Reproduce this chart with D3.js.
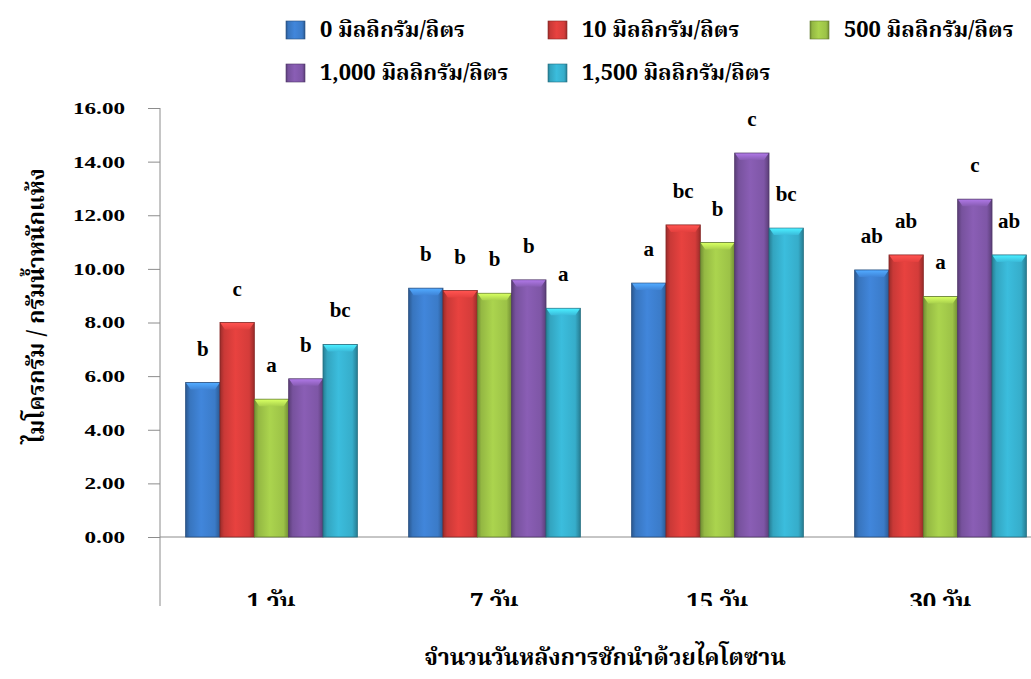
<!DOCTYPE html>
<html>
<head>
<meta charset="utf-8">
<script src="https://cdn.jsdelivr.net/npm/d3@7"></script>
<style>
  body { margin: 0; background: #fff; }
  svg { display: block; }
</style>
</head>
<body>
<div id="container"></div>
<script>
(function(){

    // ---------------------------------------------------------------- data
    const days = ["1 วัน", "7 วัน", "15 วัน", "30 วัน"];
    const series = ["0 มิลลิกรัม/ลิตร", "10 มิลลิกรัม/ลิตร", "500 มิลลิกรัม/ลิตร",
                    "1,000 มิลลิกรัม/ลิตร", "1,500 มิลลิกรัม/ลิตร"];
    // values per series, one per day
    const conc0    = [5.76, 9.28,  9.47,  9.96];
    const conc10   = [8.00, 9.19, 11.64, 10.52];
    const conc500  = [5.14, 9.09, 10.98,  8.97];
    const conc1000 = [5.90, 9.59, 14.32, 12.60];
    const conc1500 = [7.18, 8.53, 11.52, 10.52];
    // significance letters per series, one per day
    const letters0    = ["b", "b", "a",  "ab"];
    const letters10   = ["c", "b", "bc", "ab"];
    const letters500  = ["a", "b", "b",  "a"];
    const letters1000 = ["b", "b", "c",  "c"];
    const letters1500 = ["bc", "a", "bc", "ab"];
    const yTicks = [0, 2, 4, 6, 8, 10, 12, 14, 16];

    const yTitle = "ไมโครกรัม / กรัมน้ำหนักแห้ง";
    const xTitle = "จำนวนวันหลังการชักนำด้วยไคโตซาน";

    const colors = ["#3b7bc8", "#d43c3a", "#9cc247", "#7e56a6", "#36adca"];

    const values  = [conc0, conc10, conc500, conc1000, conc1500];
    const letters = [letters0, letters10, letters500, letters1000, letters1500];

    const data = [];
    days.forEach((d, i) =>
        series.forEach((s, j) =>
            data.push({day: d, series: s, idx: j, value: values[j][i], letter: letters[j][i]})
        )
    );

    // -------------------------------------------------------------- layout
    const width = 1031, height = 679;
    const thaiFont = "'Angsana New', 'Noto Serif Thai', 'Noto Sans Thai', 'Liberation Serif', serif";
    const numFont  = "'Liberation Serif', 'Times New Roman', serif";

    const x = d3.scaleBand()
        .domain(days)
        .range([160, 1052])
        .paddingInner(0.23)
        .paddingOuter(0.115);
    const xs = d3.scaleBand()
        .domain(series)
        .range([0, x.bandwidth()]);
    const y = d3.scaleLinear([0, 16], [537, 108]);
    const axisBottomY = 606;

    const svg = d3.select("#container").append("svg")
        .attr("width", width)
        .attr("height", height);

    const defs = svg.append("defs");
    colors.forEach((c, i) => {
        const base = d3.color(c);
        const g = defs.append("linearGradient")
            .attr("id", "grad" + i)
            .attr("x1", "0").attr("x2", "1").attr("y1", "0").attr("y2", "0");
        g.append("stop").attr("offset", "0%").attr("stop-color", base.darker(0.9));
        g.append("stop").attr("offset", "12%").attr("stop-color", base.darker(0.15));
        g.append("stop").attr("offset", "45%").attr("stop-color", base.brighter(0.25));
        g.append("stop").attr("offset", "85%").attr("stop-color", base);
        g.append("stop").attr("offset", "100%").attr("stop-color", base.darker(0.9));

        const t = defs.append("linearGradient")
            .attr("id", "top" + i)
            .attr("x1", "0").attr("x2", "0").attr("y1", "0").attr("y2", "1");
        t.append("stop").attr("offset", "0%").attr("stop-color", base.brighter(0.9));
        t.append("stop").attr("offset", "100%").attr("stop-color", base.brighter(0.2));
    });

    defs.append("clipPath").attr("id", "plotClip")
        .append("rect")
        .attr("x", 0).attr("y", 0)
        .attr("width", width).attr("height", axisBottomY);

    // ---------------------------------------------------------------- axes
    const yAxis = svg.append("g")
        .attr("transform", "translate(160,0)")
        .call(d3.axisLeft(y)
            .tickValues(yTicks)
            .tickFormat(d3.format(".2f"))
            .tickSize(12)
            .tickPadding(23));
    yAxis.select(".domain").remove();
    yAxis.selectAll(".tick line").attr("stroke", "#8c8c8c");
    // the original numbers are wide, so stretch them a bit
    yAxis.selectAll(".tick text")
        .style("font", `bold 17px ${numFont}`)
        .attr("fill", "#000")
        .attr("transform", function() {
            const tx = +d3.select(this).attr("x");
            return `translate(${tx},0) scale(1.36,1)`;
        })
        .attr("x", 0);

    svg.append("line")
        .attr("x1", 160).attr("x2", 160)
        .attr("y1", y(16)).attr("y2", axisBottomY)
        .attr("stroke", "#8c8c8c");

    svg.append("line")
        .attr("x1", 160).attr("x2", width)
        .attr("y1", y(0)).attr("y2", y(0))
        .attr("stroke", "#8c8c8c");

    // category labels, cut off at the bottom of the plot area like the original
    svg.append("g")
        .attr("clip-path", "url(#plotClip)")
        .selectAll("text")
        .data(days)
        .join("text")
        .attr("x", d => x(d) + x.bandwidth() / 2)
        .attr("y", 610)
        .attr("text-anchor", "middle")
        .style("font", `bold 24px ${thaiFont}`)
        .text(d => d);

    // ---------------------------------------------------------------- bars
    const groups = svg.append("g")
        .selectAll("g")
        .data(data)
        .join("g")
        .attr("transform", d => `translate(${x(d.day) + xs(d.series)},0)`);

    groups.append("rect")
        .attr("x", 0)
        .attr("y", d => y(d.value))
        .attr("width", xs.bandwidth())
        .attr("height", d => y(0) - y(d.value))
        .attr("fill", d => `url(#grad${d.idx})`)
        .attr("stroke", d => d3.color(colors[d.idx]).darker(1.3))
        .attr("stroke-width", 0.8);

    groups.append("path")
        .attr("d", d => {
            const w = xs.bandwidth(), t = y(d.value);
            return `M0.5,${t + 0.5}L${w - 0.5},${t + 0.5}L${w - 5},${t + 7}L5,${t + 7}Z`;
        })
        .attr("fill", d => `url(#top${d.idx})`);

    groups.append("text")
        .attr("x", xs.bandwidth() / 2)
        .attr("y", d => y(d.value) - 27)
        .attr("text-anchor", "middle")
        .style("font", `bold 21px ${numFont}`)
        .text(d => d.letter);

    // -------------------------------------------------------------- titles
    svg.append("text")
        .attr("transform", "translate(44,306) rotate(-90)")
        .attr("text-anchor", "middle")
        .style("font", `bold 23px ${thaiFont}`)
        .text(yTitle);

    svg.append("text")
        .attr("x", 605)
        .attr("y", 665)
        .attr("text-anchor", "middle")
        .style("font", `bold 23px ${thaiFont}`)
        .text(xTitle);

    // -------------------------------------------------------------- legend
    const legend = svg.append("g")
        .selectAll("g")
        .data(series)
        .join("g")
        .attr("transform", (d, i) => `translate(${286 + (i % 3) * 262},${i < 3 ? 21 : 64})`);

    legend.append("rect")
        .attr("width", 19)
        .attr("height", 18)
        .attr("fill", (d, i) => `url(#grad${i})`)
        .attr("stroke", (d, i) => d3.color(colors[i]).darker(1.3))
        .attr("stroke-width", 0.6);

    legend.append("text")
        .attr("x", 34)
        .attr("y", 16)
        .style("font", `bold 22px ${thaiFont}`)
        .text(d => d);

})();
</script>
</body>
</html>
